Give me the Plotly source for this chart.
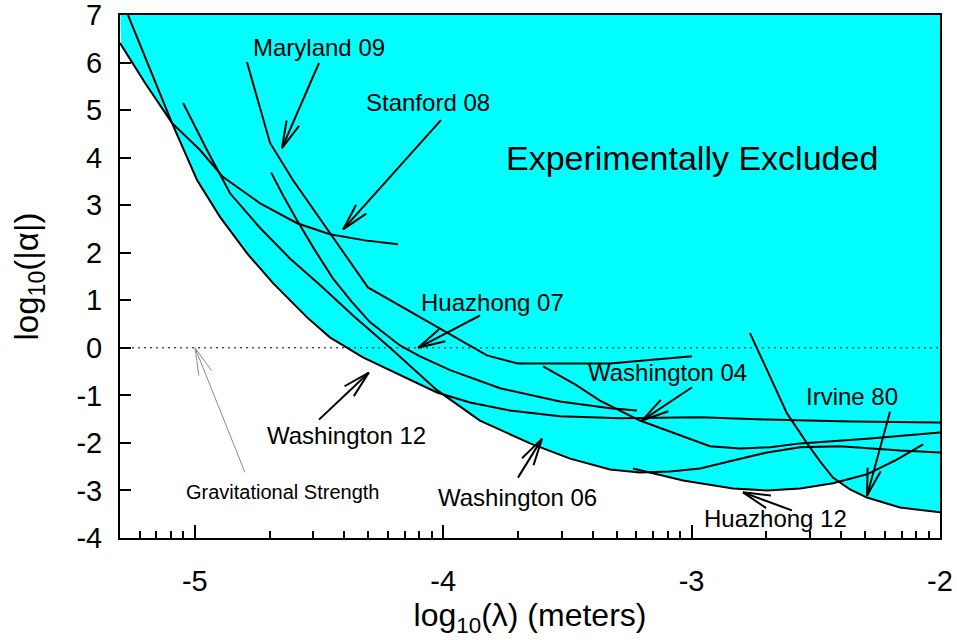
import numpy as np
import plotly.graph_objects as go

# ---------------- data: log10(lambda/m), log10(|alpha|) ----------------
stanford08_x = [-5.301, -5.200, -5.092, -4.979, -4.886, -4.737, -4.588, -4.456, -4.315, -4.182]
stanford08_y = [6.41, 5.57, 4.73, 4.16, 3.59, 3.04, 2.62, 2.39, 2.26, 2.18]

washington12_x = [-5.269, -5.180, -5.092, -4.991, -4.898, -4.790, -4.685, -4.548, -4.456, -4.323,
                  -4.186, -4.025, -3.892, -3.731, -3.530, -3.288, -2.966, -2.696, -2.362, -2.000]
washington12_y = [7.00, 5.84, 4.73, 3.53, 2.75, 1.99, 1.36, 0.64, 0.22, -0.20,
                  -0.54, -0.94, -1.15, -1.32, -1.44, -1.48, -1.46, -1.51, -1.55, -1.57]

washington06_x = [-5.047, -4.951, -4.858, -4.737, -4.617, -4.496, -4.363, -4.214, -4.025, -3.852, -3.650,
                  -3.489, -3.328, -3.208, -3.087, -2.966, -2.833, -2.696, -2.563, -2.402, -2.161, -2.000]
washington06_y = [5.15, 4.16, 3.25, 2.52, 1.88, 1.32, 0.68, 0.00, -0.89, -1.53, -2.01,
                  -2.33, -2.56, -2.62, -2.60, -2.54, -2.37, -2.20, -2.09, -2.07, -2.16, -2.20]

huazhong07_x = [-4.693, -4.645, -4.588, -4.516, -4.444, -4.367, -4.295, -4.174, -4.093, -3.972,
                -3.771, -3.530, -3.328, -3.220]
huazhong07_y = [3.69, 3.21, 2.68, 2.05, 1.46, 0.96, 0.54, 0.05, -0.18, -0.47,
                -0.85, -1.13, -1.27, -1.32]

maryland09_x = [-4.790, -4.697, -4.605, -4.456, -4.303, -3.824, -3.699, -3.328, -2.998]
maryland09_y = [6.01, 4.31, 3.53, 2.41, 1.27, -0.16, -0.33, -0.33, -0.18]

washington04_x = [-3.598, -3.469, -3.369, -3.208, -3.099, -2.926, -2.805, -2.684, -2.563, -2.294, -2.000]
washington04_y = [-0.39, -0.77, -1.11, -1.53, -1.74, -2.07, -2.12, -2.09, -2.01, -1.91, -1.78]

huazhong12_x = [-3.236, -3.034, -2.833, -2.696, -2.563, -2.431, -2.294, -2.181, -2.068]
huazhong12_y = [-2.54, -2.79, -2.96, -3.00, -2.96, -2.85, -2.66, -2.37, -2.03]

irvine80_x = [-2.765, -2.696, -2.616, -2.535, -2.483, -2.431, -2.362, -2.294, -2.161, -2.000]
irvine80_y = [0.31, -0.47, -1.38, -2.01, -2.39, -2.73, -2.98, -3.15, -3.36, -3.46]

x_tick_vals = [-5, -4, -3, -2]
x_tick_text = ["-5", "-4", "-3", "-2"]
y_tick_vals = list(range(-4, 8))
y_tick_text = [str(v) for v in y_tick_vals]

# ---------------- annotation positions (data coordinates) ----------------
labels = [
    ("Maryland 09", -4.500, 6.31, 24),
    ("Stanford 08", -4.061, 5.15, 24),
    ("Experimentally Excluded", -2.998, 3.99, 34),
    ("Huazhong 07", -3.803, 0.96, 24),
    ("Washington 04", -3.099, -0.52, 24),
    ("Irvine 80", -2.354, -1.02, 24),
    ("Huazhong 12", -2.664, -3.59, 24),
    ("Washington 06", -3.699, -3.15, 24),
    ("Washington 12", -4.391, -1.84, 24),
]
grav_label = ("Gravitational Strength", -4.645, -3.04, 20)

arrows = [  # tail x, tail y, tip x, tip y, colour, width
    (-4.500, 5.99, -4.649, 4.20, "black", 2),
    (-4.009, 4.79, -4.403, 2.49, "black", 2),
    (-3.852, 0.68, -4.101, 0.00, "black", 2),
    (-2.998, -0.83, -3.200, -1.53, "black", 2),
    (-2.201, -1.34, -2.294, -3.11, "black", 2),
    (-2.596, -3.42, -2.793, -3.04, "black", 2),
    (-3.699, -2.73, -3.602, -1.91, "black", 2),
    (-4.500, -1.51, -4.299, -0.52, "black", 2),
    (-4.798, -2.62, -4.999, 0.00, "#8a8a8a", 1),
]

# ---------------- figure geometry ----------------
W, H = 957, 640
ML, MR, MT, MB = 120, 17, 15, 102
x_range = [np.log10(5e-6), -2.0]
y_range = [-4.0001, 7.0001]
px_per_x = (W - ML - MR) / (x_range[1] - x_range[0])
px_per_y = (H - MT - MB) / (y_range[1] - y_range[0])

curves = [
    (stanford08_x, stanford08_y), (washington12_x, washington12_y),
    (washington06_x, washington06_y), (huazhong07_x, huazhong07_y),
    (maryland09_x, maryland09_y), (washington04_x, washington04_y),
    (huazhong12_x, huazhong12_y), (irvine80_x, irvine80_y),
]

# excluded region: everything above the lower envelope of all limit curves
grid = np.linspace(x_range[0], x_range[1], 1500)
env = np.full_like(grid, np.inf)
for cx, cy in curves:
    cx = np.asarray(cx); cy = np.asarray(cy)
    inside = (grid >= cx.min()) & (grid <= cx.max())
    vals = np.where(inside, np.interp(grid, cx, cy), np.inf)
    env = np.minimum(env, vals)
env = np.minimum(env, y_range[1] + 0.5)

fig = go.Figure()
fig.add_trace(go.Scatter(
    x=np.concatenate([grid, [x_range[1], x_range[0]]]),
    y=np.concatenate([env, [y_range[1] + 0.5, y_range[1] + 0.5]]),
    fill="toself", fillcolor="#00FFFF", mode="lines", line=dict(width=0),
    hoverinfo="skip"))

fig.add_hline(y=0, line=dict(color="black", width=1, dash="2px,4px"))

for cx, cy in curves:
    fig.add_trace(go.Scatter(x=cx, y=cy, mode="lines",
                             line=dict(color="black", width=2), hoverinfo="skip"))

font_family = "Liberation Sans, Arial, Helvetica, sans-serif"

for text, x, y, size in labels + [grav_label]:
    fig.add_annotation(x=x, y=y, xref="x", yref="y", text=text, showarrow=False,
                       font=dict(family=font_family, size=size, color="black"))

# arrows with slender open heads
head_len, head_ang = 28.0, np.deg2rad(14)
for x0, y0, x1, y1, col, wd in arrows:
    fig.add_shape(type="line", x0=x0, y0=y0, x1=x1, y1=y1, xref="x", yref="y",
                  line=dict(color=col, width=wd))
    vx, vy = (x0 - x1) * px_per_x, (y0 - y1) * px_per_y
    n = np.hypot(vx, vy); vx, vy = vx / n, vy / n
    for s in (1, -1):
        c, si = np.cos(s * head_ang), np.sin(s * head_ang)
        rx, ry = vx * c - vy * si, vx * si + vy * c
        fig.add_shape(type="line", x0=x1, y0=y1,
                      x1=x1 + rx * head_len / px_per_x, y1=y1 + ry * head_len / px_per_y,
                      xref="x", yref="y", line=dict(color=col, width=wd))

minor_vals = [d + np.log10(k) for d in (-6, -5, -4, -3) for k in range(2, 10)
              if x_range[0] - 1e-6 <= d + np.log10(k) <= x_range[1]]

fig.update_layout(
    template="none", width=W, height=H,
    margin=dict(l=ML, r=MR, t=MT, b=MB, autoexpand=False),
    plot_bgcolor="white", paper_bgcolor="white", showlegend=False,
    font=dict(family=font_family, color="black"),
    xaxis=dict(range=x_range, tickmode="array", tickvals=x_tick_vals, ticktext=x_tick_text,
               ticks="inside", ticklen=13, tickwidth=2, tickcolor="black",
               showline=True, linewidth=2, linecolor="black", mirror=True,
               showgrid=False, zeroline=False, automargin=False,
               tickfont=dict(size=29, family=font_family), ticklabelstandoff=16,
               ticklabeloverflow="allow",
               minor=dict(tickmode="array", tickvals=minor_vals, ticks="inside",
                          ticklen=7, tickwidth=1.5, tickcolor="black", showgrid=False),
               title=dict(text="log<sub>10</sub>(λ) (meters)", standoff=6,
                          font=dict(size=32, family=font_family))),
    yaxis=dict(range=y_range, tickmode="array", tickvals=y_tick_vals, ticktext=y_tick_text,
               ticks="inside", ticklen=11, tickwidth=2, tickcolor="black",
               showline=True, linewidth=2, linecolor="black", mirror=True,
               showgrid=False, zeroline=False, automargin=False,
               tickfont=dict(size=29, family=font_family), ticklabelstandoff=10,
               ticklabeloverflow="allow",
               title=dict(text="log<sub>10</sub>(|α|)", standoff=28,
                          font=dict(size=33, family=font_family))),
)

fig.write_html("out.html")
